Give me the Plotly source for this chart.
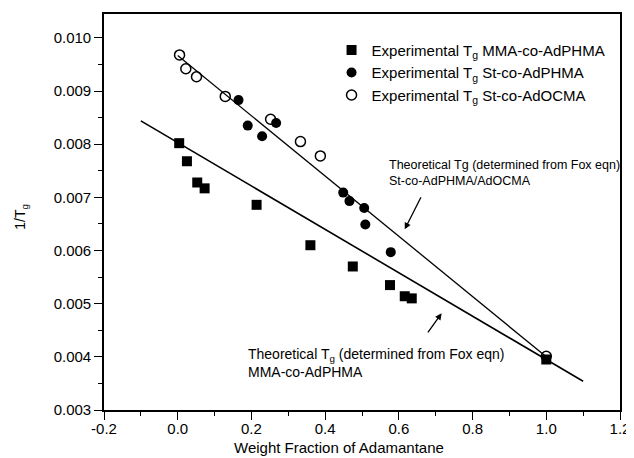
import plotly.graph_objects as go

# MMA-co-AdPHMA (filled squares)
mma_x = [0.004, 0.025, 0.053, 0.073, 0.214, 0.360, 0.475, 0.576, 0.616, 0.635, 1.0]
mma_y = [0.00802, 0.00768, 0.00728, 0.00717, 0.00686, 0.00610, 0.00570, 0.00535, 0.00514, 0.00510, 0.00395]

# St-co-AdPHMA (filled circles)
stp_x = [0.165, 0.190, 0.229, 0.267, 0.449, 0.466, 0.506, 0.509, 0.578]
stp_y = [0.00883, 0.00835, 0.00815, 0.00840, 0.00709, 0.00693, 0.00680, 0.00649, 0.00597]

# St-co-AdOCMA (open circles)
sto_x = [0.005, 0.022, 0.051, 0.129, 0.252, 0.333, 0.387, 1.0]
sto_y = [0.00968, 0.00942, 0.00927, 0.00890, 0.00847, 0.00805, 0.00778, 0.00401]

# Theoretical (Fox eqn) lines
fox_st_x = [0.0, 1.0]
fox_st_y = [0.00967, 0.00400]
fox_mma_x = [-0.1, 1.1]
fox_mma_y = [0.00844, 0.00354]

# Tick labels
x_tickvals = [-0.2, 0.0, 0.2, 0.4, 0.6, 0.8, 1.0, 1.2]
x_ticktext = ["-0.2", "0.0", "0.2", "0.4", "0.6", "0.8", "1.0", "1.2"]
y_tickvals = [0.003, 0.004, 0.005, 0.006, 0.007, 0.008, 0.009, 0.010]
y_ticktext = ["0.003", "0.004", "0.005", "0.006", "0.007", "0.008", "0.009", "0.010"]

FONT = "Liberation Sans, Arial, Helvetica, sans-serif"

fig = go.Figure()
fig.add_trace(go.Scatter(x=fox_st_x, y=fox_st_y, mode="lines",
                         line=dict(color="black", width=1.3), showlegend=False))
fig.add_trace(go.Scatter(x=fox_mma_x, y=fox_mma_y, mode="lines",
                         line=dict(color="black", width=1.6), showlegend=False))
fig.add_trace(go.Scatter(x=mma_x, y=mma_y, mode="markers",
                         name="Experimental T<sub>g</sub> MMA-co-AdPHMA",
                         marker=dict(symbol="square", size=10, color="black")))
fig.add_trace(go.Scatter(x=stp_x, y=stp_y, mode="markers",
                         name="Experimental T<sub>g</sub> St-co-AdPHMA",
                         marker=dict(symbol="circle", size=10, color="black")))
fig.add_trace(go.Scatter(x=sto_x, y=sto_y, mode="markers",
                         name="Experimental T<sub>g</sub> St-co-AdOCMA",
                         marker=dict(symbol="circle-open", size=10, color="black",
                                     line=dict(width=1.5, color="black"))))

fig.add_annotation(x=0.5676, y=0.00745, xref="x", yref="y", xanchor="left", yanchor="middle",
                   align="left", showarrow=False,
                   text="Theoretical Tg (determined from Fox eqn)<br>St-co-AdPHMA/AdOCMA",
                   font=dict(family=FONT, size=12.5, color="black"))
fig.add_annotation(x=0.186, y=0.00389, xref="x", yref="y", xanchor="left", yanchor="middle",
                   align="left", showarrow=False,
                   text="Theoretical T<sub>g</sub> (determined from Fox eqn)<br>MMA-co-AdPHMA",
                   font=dict(family=FONT, size=14, color="black"))
fig.add_annotation(x=0.616, y=0.00640, ax=0.662, ay=0.00703, xref="x", yref="y",
                   axref="x", ayref="y", showarrow=True, arrowhead=2, arrowsize=1,
                   arrowwidth=1.3, arrowcolor="black", text="")
fig.add_annotation(x=0.716, y=0.00482, ax=0.676, ay=0.00443, xref="x", yref="y",
                   axref="x", ayref="y", showarrow=True, arrowhead=2, arrowsize=1,
                   arrowwidth=1.3, arrowcolor="black", text="")

# Axis titles
fig.add_annotation(x=0.4556, y=-0.095, xref="paper", yref="paper", xanchor="center",
                   yanchor="middle", showarrow=False, text="Weight Fraction of Adamantane",
                   font=dict(family=FONT, size=15, color="black"))
fig.add_annotation(x=-0.160, y=0.489, xref="paper", yref="paper", xanchor="center",
                   yanchor="middle", showarrow=False, text="1/T<sub>g</sub>", textangle=-90,
                   font=dict(family=FONT, size=14, color="black"))

# The page body has an 8px default margin, so the figure is sized/offset to compensate.
fig.update_layout(
    width=626, height=450,
    margin=dict(l=96, r=12, t=4, b=48),
    paper_bgcolor="white", plot_bgcolor="white",
    font=dict(family=FONT, size=15, color="black"),
    legend=dict(x=0.441, y=0.95, xanchor="left", yanchor="top",
                bgcolor="rgba(0,0,0,0)", font=dict(size=15), tracegroupgap=0),
)
fig.update_xaxes(range=[-0.2, 1.2], tickvals=x_tickvals, ticktext=x_ticktext,
                 ticks="outside", ticklen=8, tickwidth=1.3, tickcolor="black",
                 ticklabelstandoff=-4,
                 showline=True, linecolor="black", linewidth=1.6, mirror=True,
                 showgrid=False, zeroline=False, tickfont=dict(size=15),
                 minor=dict(ticks="outside", ticklen=4, dtick=0.1, tick0=-0.2,
                            tickcolor="black", tickwidth=1.3, showgrid=False))
fig.update_yaxes(range=[0.003, 0.01045], tickvals=y_tickvals, ticktext=y_ticktext,
                 ticks="outside", ticklen=8, tickwidth=1.3, tickcolor="black",
                 showline=True, linecolor="black", linewidth=1.6, mirror=True,
                 showgrid=False, zeroline=False, tickfont=dict(size=15),
                 minor=dict(ticks="outside", ticklen=4, dtick=0.0005, tick0=0.003,
                            tickcolor="black", tickwidth=1.3, showgrid=False))

fig.write_html("out.html")
